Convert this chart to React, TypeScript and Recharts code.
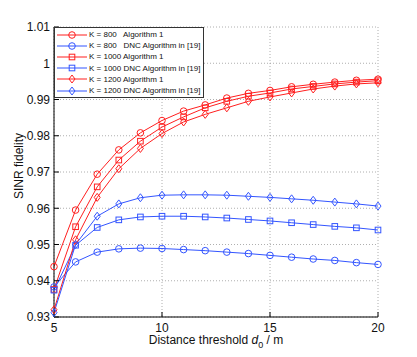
import React from 'react';
import { LineChart, Line, XAxis, YAxis, CartesianGrid, Legend } from 'recharts';

const distances = [5, 6, 7, 8, 9, 10, 11, 12, 13, 14, 15, 16, 17, 18, 19, 20];
const k800Alg1 = [0.9439, 0.9595, 0.9694, 0.9761, 0.9808, 0.9842, 0.9868, 0.9885, 0.9904, 0.9917, 0.9925, 0.9935, 0.9942, 0.9948, 0.9953, 0.9956];
const k800Dnc = [0.9383, 0.9452, 0.9479, 0.9488, 0.949, 0.9489, 0.9486, 0.9483, 0.9479, 0.9475, 0.947, 0.9465, 0.946, 0.9456, 0.945, 0.9445];
const k1000Alg1 = [0.9376, 0.9549, 0.9659, 0.9733, 0.9785, 0.9824, 0.9852, 0.9877, 0.9895, 0.9909, 0.9918, 0.9929, 0.9936, 0.9943, 0.9948, 0.9952];
const k1000Dnc = [0.9374, 0.9498, 0.9547, 0.9568, 0.9576, 0.9578, 0.9578, 0.9576, 0.9573, 0.9569, 0.9565, 0.956, 0.9555, 0.955, 0.9546, 0.954];
const k1200Alg1 = [0.932, 0.9513, 0.963, 0.9709, 0.9765, 0.9806, 0.9838, 0.9859, 0.9877, 0.9895, 0.9907, 0.9918, 0.9929, 0.9937, 0.9943, 0.9946];
const k1200Dnc = [0.9312, 0.95, 0.9578, 0.9612, 0.9629, 0.9636, 0.9637, 0.9637, 0.9636, 0.9633, 0.963, 0.9626, 0.9622, 0.9617, 0.9612, 0.9606];

const xTicks = [5, 10, 15, 20];
const yTicks = [0.93, 0.94, 0.95, 0.96, 0.97, 0.98, 0.99, 1.0, 1.01];

const RED = '#ff1f1f';
const BLUE = '#3355ff';
const FONT = '"Liberation Sans", Arial, Helvetica, sans-serif';

type Shape = 'circle' | 'square' | 'diamond';
const series: { key: string; name: string; values: number[]; color: string; shape: Shape }[] = [
  { key: 'k800a', name: 'K = 800   Algorithm 1', values: k800Alg1, color: RED, shape: 'circle' },
  { key: 'k800d', name: 'K = 800   DNC Algorithm in [19]', values: k800Dnc, color: BLUE, shape: 'circle' },
  { key: 'k1000a', name: 'K = 1000 Algorithm 1', values: k1000Alg1, color: RED, shape: 'square' },
  { key: 'k1000d', name: 'K = 1000 DNC Algorithm in [19]', values: k1000Dnc, color: BLUE, shape: 'square' },
  { key: 'k1200a', name: 'K = 1200 Algorithm 1', values: k1200Alg1, color: RED, shape: 'diamond' },
  { key: 'k1200d', name: 'K = 1200 DNC Algorithm in [19]', values: k1200Dnc, color: BLUE, shape: 'diamond' },
];

const data = distances.map((d, i) => {
  const row: Record<string, number> = { d };
  series.forEach((s) => {
    row[s.key] = s.values[i];
  });
  return row;
});

function markerEl(shape: Shape, cx: number, cy: number, color: string, key?: string | number) {
  if (shape === 'circle') {
    return <circle key={key} cx={cx} cy={cy} r={3.3} fill="none" stroke={color} strokeWidth={1} />;
  }
  if (shape === 'square') {
    return <rect key={key} x={cx - 2.8} y={cy - 2.8} width={5.6} height={5.6} fill="none" stroke={color} strokeWidth={1} />;
  }
  return (
    <polygon
      key={key}
      points={`${cx},${cy - 4} ${cx + 3},${cy} ${cx},${cy + 4} ${cx - 3},${cy}`}
      fill="none"
      stroke={color}
      strokeWidth={1}
    />
  );
}

const LegendBox = () => (
  <div
    style={{
      width: 150,
      height: 71,
      border: '1px solid #333',
      background: '#fff',
      boxSizing: 'border-box',
      paddingTop: 1,
      fontFamily: FONT,
      fontSize: 8,
      color: '#111',
    }}
  >
    {series.map((s) => (
      <div key={s.key} style={{ height: 11.2, display: 'flex', alignItems: 'center', whiteSpace: 'pre' }}>
        <svg width={33} height={10} style={{ display: 'block', flex: 'none' }}>
          <line x1={2} y1={5} x2={32} y2={5} stroke={s.color} strokeWidth={1} />
          {markerEl(s.shape, 17, 5, s.color)}
        </svg>
        <span style={{ marginLeft: 1 }}>{s.name}</span>
      </div>
    ))}
  </div>
);

const XTitle = (props: any) => {
  const vb = props.viewBox || { x: 54, width: 324, y: 317 };
  const cx = vb.x + vb.width / 2;
  return (
    <text x={cx} y={344} textAnchor="middle" fontFamily={FONT} fontSize={12} fill="#111">
      <tspan>Distance threshold </tspan>
      <tspan fontStyle="italic">d</tspan>
      <tspan dy={4} fontSize={9}>0</tspan>
      <tspan dy={-4}> / m</tspan>
    </text>
  );
};

const YTitle = (props: any) => {
  const vb = props.viewBox || { y: 27, height: 290 };
  const cy = vb.y + vb.height / 2 - 6;
  return (
    <text
      x={23}
      y={cy}
      transform={`rotate(-90, 23, ${cy})`}
      textAnchor="middle"
      fontFamily={FONT}
      fontSize={12}
      fill="#111"
    >
      SINR fidelity
    </text>
  );
};

const fmtY = (v: number) => String(+v.toFixed(2));

export default function App() {
  return (
    <div style={{ position: 'absolute', left: 0, top: 0, background: '#fff' }}>
      <LineChart width={417} height={357} data={data} margin={{ top: 27, right: 39, bottom: 0, left: 0 }}>
        <CartesianGrid stroke="#9a9a9a" strokeDasharray="1 2" strokeWidth={0.8} />
        <XAxis
          dataKey="d"
          type="number"
          domain={[5, 20]}
          ticks={xTicks}
          height={40}
          tickSize={-5}
          tickMargin={11}
          stroke="#000"
          tick={{ fontFamily: FONT, fontSize: 12, fill: '#111' }}
          label={{ content: (p: any) => <XTitle {...p} /> }}
        />
        <XAxis
          xAxisId="top"
          orientation="top"
          dataKey="d"
          type="number"
          domain={[5, 20]}
          ticks={xTicks}
          height={0}
          tickSize={-5}
          tick={false}
          stroke="#000"
        />
        <YAxis
          type="number"
          domain={[0.93, 1.01]}
          ticks={yTicks}
          width={54}
          tickSize={-5}
          tickMargin={9}
          tickFormatter={fmtY}
          stroke="#000"
          tick={{ fontFamily: FONT, fontSize: 12, fill: '#111' }}
          label={{ content: (p: any) => <YTitle {...p} /> }}
        />
        <YAxis
          yAxisId="right"
          orientation="right"
          type="number"
          domain={[0.93, 1.01]}
          ticks={yTicks}
          width={0}
          tickSize={-5}
          tick={false}
          stroke="#000"
        />
        {series.map((s) => (
          <Line
            key={s.key}
            dataKey={s.key}
            name={s.name}
            stroke={s.color}
            strokeWidth={1}
            isAnimationActive={false}
            dot={(p: any) => markerEl(s.shape, p.cx, p.cy, s.color, `${s.key}-${p.index}`)}
            activeDot={false}
          />
        ))}
        <Legend
          layout="vertical"
          align="center"
          verticalAlign="middle"
          content={() => <LegendBox />}
          wrapperStyle={{ position: 'absolute', left: 54, top: 27, width: 150, height: 71 }}
        />
      </LineChart>
    </div>
  );
}
